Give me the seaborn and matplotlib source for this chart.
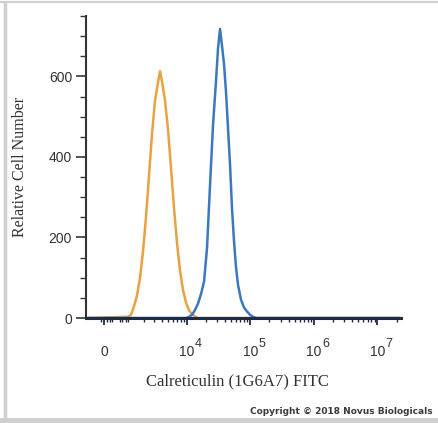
import numpy as np
import pandas as pd
import matplotlib
matplotlib.use("Agg")
import matplotlib.pyplot as plt
import seaborn as sns
from matplotlib.ticker import FixedLocator

# Histogram outlines (fluorescence value, cell count)
isotype_fitc = [-700, 984, 1142, 1314, 1502, 1707, 1932, 2181, 2455, 2759, 3095,
                3402, 3737, 4103, 4504, 5033, 5621, 6276, 7005, 7818, 8722,
                9730, 10850, 12100, 13500, 15050, 2.3e7]
isotype_count = [0, 3, 8, 29, 56, 100, 165, 252, 354, 458, 540,
                 578, 613, 580, 540, 468, 372, 273, 186, 117, 69,
                 38, 19, 9, 4, 0, 0]

calret_fitc = [-700, 9730, 10850, 12100, 13500, 15050, 16790, 18720, 20870, 23260,
               25940, 28920, 31090, 33430, 35950, 38650, 41550, 44680, 48040,
               51650, 55530, 59700, 64190, 71550, 79780, 88940, 99160, 110500,
               123200, 2.3e7]
calret_count = [0, 0, 3, 8, 20, 36, 60, 90, 175, 330,
                480, 590, 670, 718, 675, 630, 560, 470, 380,
                270, 190, 125, 82, 45, 26, 16, 8, 3,
                0, 0]

major_x = [0, 1e4, 1e5, 1e6, 1e7]
major_x_labels = ["0", "10", "10", "10", "10"]
decade_exps = [4, 5, 6, 7]
minor_x = [-100, 100, 200, 300, 600, 700, 900, 1000,
           2e3, 3e3, 4e3, 5e3, 6e3, 7e3, 8e3, 9e3,
           2e4, 3e4, 4e4, 5e4, 6e4, 7e4, 8e4, 9e4,
           2e5, 3e5, 4e5, 5e5, 6e5, 7e5, 8e5, 9e5,
           2e6, 3e6, 4e6, 5e6, 6e6, 7e6, 8e6, 9e6, 2e7]
major_y = [0, 200, 400, 600]

sns.set_style("white")
plt.rcParams["font.family"] = ["Liberation Sans", "DejaVu Sans"]

iso = pd.DataFrame({"fitc": isotype_fitc, "count": isotype_count})
cal = pd.DataFrame({"fitc": calret_fitc, "count": calret_count})

fig = plt.figure(figsize=(4.38, 4.23), dpi=100)
ax = fig.add_axes([86 / 438, 105 / 423, 315 / 438, 302 / 423])

# logicle-like display: arcsinh
C = 1000.0
ax.set_xscale("function", functions=(lambda v: np.arcsinh(np.asarray(v) / C),
                                     lambda u: C * np.sinh(np.asarray(u))))

sns.lineplot(data=iso, x="fitc", y="count", color="#E9A241", lw=1.8, ax=ax,
             sort=False, estimator=None)
sns.lineplot(data=cal, x="fitc", y="count", color="#3B78BE", lw=1.8, ax=ax,
             sort=False, estimator=None)

ax.set_xlim(-700, 2.35e7)
ax.set_ylim(0, 750)

ax.xaxis.set_major_locator(FixedLocator(major_x))
ax.xaxis.set_minor_locator(FixedLocator(minor_x))
ax.set_xticklabels(major_x_labels)
ax.yaxis.set_major_locator(FixedLocator(major_y))
ax.yaxis.set_minor_locator(FixedLocator(list(range(0, 751, 50))))

ax.tick_params(axis="x", which="major", direction="out", length=5, width=1.3,
               color="#1f2a44", labelsize=10, labelcolor="#333333", pad=22,
               bottom=True)
ax.tick_params(axis="x", which="minor", direction="out", length=3, width=1.0,
               color="#1f2a44", bottom=True)
ax.tick_params(axis="y", which="major", direction="out", length=7, width=1.2,
               color="#333333", labelsize=10, labelcolor="#333333", pad=3,
               left=True)
ax.tick_params(axis="y", which="minor", direction="out", length=4, width=1.0,
               color="#333333", left=True)
for lab in ax.xaxis.get_majorticklabels():
    lab.set_verticalalignment("baseline")

# large raised exponents, as in the original
for e in decade_exps:
    ax.annotate(str(e), xy=(10.0 ** e, 0), xycoords=("data", "axes fraction"),
                xytext=(6, -21), textcoords="offset points", fontsize=9,
                color="#333333", ha="left", va="baseline", annotation_clip=False)

sns.despine(ax=ax)
ax.spines["left"].set_color("#333333")
ax.spines["left"].set_linewidth(1.5)
ax.spines["bottom"].set_color("#1f2a44")
ax.spines["bottom"].set_linewidth(2.2)

ax.set_xlabel("Calreticulin (1G6A7) FITC", family="Liberation Serif",
              fontsize=12, color="#333333")
ax.set_ylabel("Relative Cell Number", family="Liberation Serif",
              fontsize=11.5, color="#333333")
ax.xaxis.set_label_coords((237 - 86) / 315, (318 - 373) / 302)
ax.yaxis.set_label_coords((28 - 86) / 315, 0.5)

fig.text(341 / 438, 1 - 411 / 423, "Copyright \u00a9 2018 Novus Biologicals",
         ha="center", va="center", fontsize=6.5, fontweight="bold",
         family="DejaVu Sans", color="#3a3a3a")

# light grey frame of the original screenshot
fig.add_artist(plt.Line2D([0, 1], [1 - 2 / 423, 1 - 2 / 423], color="#d0d0d0", lw=1.5))
fig.add_artist(plt.Line2D([4.5 / 438, 4.5 / 438], [0, 1 - 2 / 423], color="#cfcfcf", lw=2.5))
fig.add_artist(plt.Rectangle((0, 0), 1, 5 / 423, color="#d0d0d0", lw=0))

fig.savefig("out.png", dpi=100)
